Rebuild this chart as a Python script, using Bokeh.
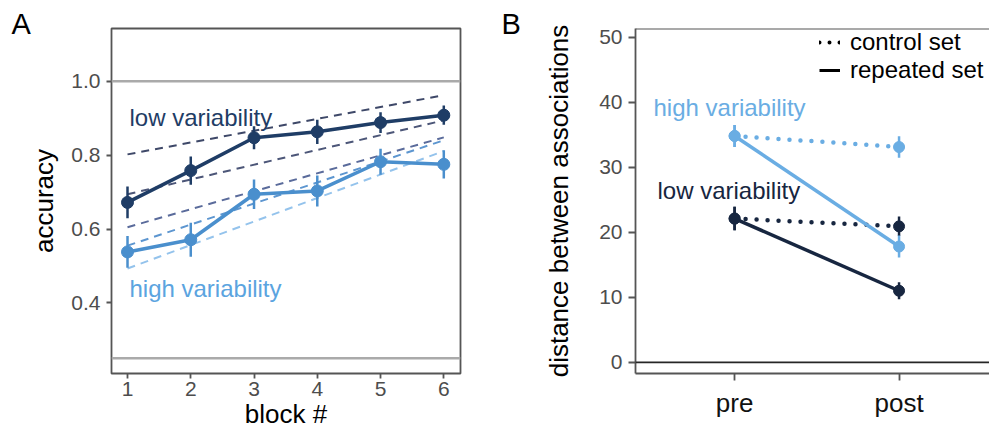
from bokeh.plotting import figure
from bokeh.layouts import row
from bokeh.models import (FixedTicker, Span, Legend, LegendItem, Range1d, Title,
                          NumeralTickFormatter)
from bokeh.core.properties import value
from bokeh.embed import file_html
from bokeh.resources import INLINE

FONT = "Liberation Sans"

# ---------------- Panel A data ----------------
blocks = [1, 2, 3, 4, 5, 6]
low_acc = [0.672, 0.758, 0.847, 0.863, 0.888, 0.908]
low_err = [0.043, 0.038, 0.031, 0.033, 0.028, 0.026]
high_acc = [0.538, 0.571, 0.694, 0.703, 0.782, 0.775]
high_err = [0.043, 0.046, 0.040, 0.042, 0.035, 0.038]
fit_start = [0.802, 0.694, 0.605, 0.555, 0.493]   # dashed lines, value at block 1
fit_end = [0.962, 0.894, 0.848, 0.840, 0.811]     # dashed lines, value at block 6
ref_levels = [1.0, 0.25]
acc_ticks = [0.4, 0.6, 0.8, 1.0]

# ---------------- Panel B data ----------------
phases = ["pre", "post"]
high_control = [34.8, 33.1]
high_control_err = [1.7, 1.65]
high_repeated = [34.8, 17.8]
high_repeated_err = [1.7, 1.7]
low_control = [22.1, 20.9]
low_control_err = [1.8, 1.5]
low_repeated = [22.1, 11.0]
low_repeated_err = [1.8, 1.3]
dist_ticks = [0, 10, 20, 30, 40, 50]

# ---------------- styles ----------------
LOW_A = "#1f3d66"
HIGH_A = "#4a8fcd"
HIGH_A_TXT = "#5ba4df"
LOW_B = "#172640"
HIGH_B = "#6aade3"
FIT_COLORS = ["#3e4868", "#4c5678", "#5a6b9b", "#5d96d0", "#94c3ec"]
FRAME = "#555555"
TICKLAB = "#4d4d4d"


def base_style(p):
    p.grid.visible = False
    p.background_fill_color = "white"
    p.border_fill_color = "white"
    for ax in p.axis:
        ax.axis_label_text_font = FONT
        ax.axis_label_text_font_style = "normal"
        ax.axis_label_text_color = "black"
        ax.major_label_text_font = FONT
        ax.major_tick_line_color = FRAME
        ax.major_tick_line_width = 1.8
        ax.minor_tick_line_color = None
        ax.major_tick_in = 0


def panel_title(text, offset):
    t = Title(text=text, align="left", vertical_align="top", offset=offset,
              text_font=FONT, text_font_size="29px", text_font_style="normal",
              text_color="black")
    try:
        t.standoff = -26
    except Exception:
        t.standoff = 0
    return t


# ================= Panel A =================
pA = figure(width=498, height=433, output_backend="svg", toolbar_location=None,
            x_range=Range1d(0.747, 6.264), y_range=Range1d(0.209, 1.1426),
            min_border_left=111, min_border_right=38,
            min_border_top=26, min_border_bottom=60)
pA.title = panel_title("A", -100)
base_style(pA)
pA.outline_line_color = FRAME
pA.outline_line_width = 1.8
for ax in pA.axis:
    ax.axis_line_color = None
    ax.major_tick_out = 5
    ax.major_label_text_font_size = "21px"
    ax.major_label_text_color = TICKLAB
    ax.axis_label_text_font_size = "26px"
pA.xaxis.ticker = FixedTicker(ticks=blocks)
pA.yaxis.ticker = FixedTicker(ticks=acc_ticks)
pA.yaxis.formatter = NumeralTickFormatter(format="0.0")
pA.xaxis.axis_label = "block #"
pA.yaxis.axis_label = "accuracy"
pA.xaxis.major_label_standoff = 3
pA.xaxis.axis_label_standoff = 0
pA.yaxis.major_label_standoff = 6
pA.yaxis.axis_label_standoff = 9

for lv in ref_levels:
    pA.add_layout(Span(location=lv, dimension="width", line_color="#aaaaaa",
                       line_width=2.5))

pA.multi_line(xs=[[blocks[0], blocks[-1]] for _ in fit_start],
              ys=[[a, b] for a, b in zip(fit_start, fit_end)],
              line_color=FIT_COLORS, line_width=2, line_dash="8 6")

for acc, err, col in ((high_acc, high_err, HIGH_A), (low_acc, low_err, LOW_A)):
    pA.segment(x0=blocks, x1=blocks,
               y0=[m - e for m, e in zip(acc, err)],
               y1=[m + e for m, e in zip(acc, err)],
               line_color=col, line_width=2.5)
    pA.line(blocks, acc, line_color=col, line_width=3.5)
    pA.scatter(blocks, acc, size=12, fill_color=col, line_color=col)

pA.text(x=[1.031], y=[0.903], text=["low variability"], text_color=LOW_A,
        text_font=value(FONT), text_font_size="24px", text_baseline="alphabetic")
pA.text(x=[1.031], y=[0.438], text=["high variability"], text_color=HIGH_A_TXT,
        text_font=value(FONT), text_font_size="24px", text_baseline="alphabetic")

# ================= Panel B =================
x_pos = [i + 1 for i in range(len(phases))]
B_TOP = 51.32
pB = figure(width=491, height=433, output_backend="svg", toolbar_location=None,
            x_range=Range1d(0.3974, 2.55), y_range=Range1d(-1.72, B_TOP),
            min_border_left=137, min_border_right=0,
            min_border_top=28, min_border_bottom=56)
pB.title = panel_title("B", -134)
base_style(pB)
pB.outline_line_color = None
for ax in pB.axis:
    ax.axis_line_color = FRAME
    ax.axis_line_width = 1.8
    ax.major_tick_out = 7
pB.xaxis.ticker = FixedTicker(ticks=x_pos)
pB.xaxis.major_label_overrides = {x: lab for x, lab in zip(x_pos, phases)}
pB.xaxis.major_label_text_font_size = "26px"
pB.xaxis.major_label_text_color = "#111111"
pB.xaxis.major_label_standoff = 7
pB.yaxis.ticker = FixedTicker(ticks=dist_ticks)
pB.yaxis.major_label_text_font_size = "21px"
pB.yaxis.major_label_text_color = TICKLAB
pB.yaxis.major_label_standoff = 6
pB.yaxis.axis_label = "distance between associations"
pB.yaxis.axis_label_text_font_size = "26px"
pB.yaxis.axis_label_standoff = 22

pB.add_layout(Span(location=B_TOP, dimension="width", line_color=FRAME, line_width=1.8))
pB.add_layout(Span(location=0, dimension="width", line_color="#262626", line_width=1.8))

series = [
    (high_control, high_control_err, HIGH_B, "dotted"),
    (low_control, low_control_err, LOW_B, "dotted"),
    (high_repeated, high_repeated_err, HIGH_B, "solid"),
    (low_repeated, low_repeated_err, LOW_B, "solid"),
]
for vals, errs, col, kind in series:
    if kind == "dotted":
        pB.line(x_pos, vals, line_color=col, line_width=4.5, line_dash="0 11",
                line_cap="round")
    else:
        pB.line(x_pos, vals, line_color=col, line_width=3.5)
for vals, errs, col, kind in series:
    pB.segment(x0=x_pos, x1=x_pos,
               y0=[m - e for m, e in zip(vals, errs)],
               y1=[m + e for m, e in zip(vals, errs)],
               line_color=col, line_width=2.5)
    pB.scatter(x_pos, vals, size=11, fill_color=col, line_color=col)

pB.text(x=[0.507], y=[39.2], text=["high variability"], text_color=HIGH_B,
        text_font=value(FONT), text_font_size="24px", text_baseline="alphabetic")
pB.text(x=[0.531], y=[26.45], text=["low variability"], text_color=LOW_B,
        text_font=value(FONT), text_font_size="24px", text_baseline="alphabetic")

NAN = float("nan")
r_dot = pB.line([NAN], [NAN], line_color="black", line_width=4, line_dash="0 10",
                line_cap="round")
r_sol = pB.line([NAN], [NAN], line_color="black", line_width=3)
legend = Legend(items=[LegendItem(label="control set", renderers=[r_dot]),
                       LegendItem(label="repeated set", renderers=[r_sol])],
                location=(184, 289), border_line_color=None,
                background_fill_alpha=0, padding=0, margin=0, spacing=0,
                glyph_width=21, glyph_height=26, label_height=26,
                label_standoff=10, label_text_font=FONT,
                label_text_font_size="24px", label_text_color="black")
pB.add_layout(legend)

layout = row(pA, pB)
open("out.html", "w").write(file_html(layout, INLINE))
